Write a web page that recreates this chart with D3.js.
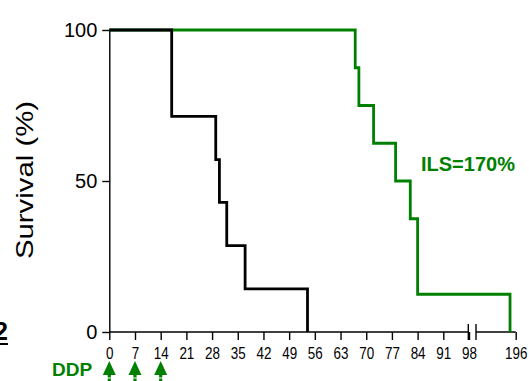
<!DOCTYPE html>
<html>
<head>
<meta charset="utf-8">
<script src="https://cdn.jsdelivr.net/npm/d3@7"></script>
<style>
  body { margin: 0; background: #fff; }
  svg { display: block; font-family: "Liberation Sans", Arial, sans-serif; }
</style>
</head>
<body>
<div id="chart"></div>
<script>
// control group (black) - 7 mice
const controlDays = [0, 17, 29, 30, 32, 37, 54];
const controlSurv = [100, 71.4, 57.1, 42.9, 28.6, 14.3, 0];
// DDP group (green) - 8 mice
const ddpDays = [0, 67, 68, 72, 78, 82, 84, 194];
const ddpSurv = [100, 87.5, 75, 62.5, 50, 37.5, 12.5, 0];

const xTicks = [0, 7, 14, 21, 28, 35, 42, 49, 56, 63, 70, 77, 84, 91, 98, 196];
const yTicks = [0, 50, 100];
const doseDays = [0, 7, 14];

const green = "#008000";
const width = 529, height = 381;

const svg = d3.select("#chart").append("svg")
  .attr("width", width)
  .attr("height", height);

// broken x axis: 0-98 then a short piece ending at 196
const x = d3.scaleLinear()
  .domain([0, 98, 182, 196])
  .range([109.3, 469, 476, 515.7]);
const y = d3.scaleLinear().domain([0, 100]).range([332, 30]);

// y axis
const yAxis = svg.append("g")
  .attr("transform", `translate(${x(0)},0)`)
  .call(d3.axisLeft(y).tickValues(yTicks).tickSize(7).tickSizeOuter(0).tickPadding(5));
yAxis.selectAll("text").attr("font-size", 20).attr("fill", "#000").attr("font-family", null);
yAxis.selectAll("line, path").attr("stroke", "#000").attr("stroke-width", 1.4);

// x axis
const xAxis = svg.append("g")
  .attr("transform", `translate(0,${y(0)})`)
  .call(d3.axisBottom(x).tickValues(xTicks).tickSize(8).tickPadding(8));
xAxis.select(".domain").remove();
xAxis.selectAll("text")
  .attr("font-size", 16).attr("fill", "#000").attr("font-family", null)
  .attr("transform", "scale(0.84,1)");
xAxis.selectAll("line").attr("stroke", "#000").attr("stroke-width", 1.4);

const axisLines = [[x(0), x(98)], [x(182), x(196)]];
xAxis.selectAll("line.seg")
  .data(axisLines).enter()
  .append("line")
  .attr("x1", d => d[0]).attr("x2", d => d[1])
  .attr("y1", 0).attr("y2", 0)
  .attr("stroke", "#000").attr("stroke-width", 1.4);

// break marks
xAxis.selectAll("line.brk")
  .data([x(98) - 0.7, x(182)]).enter()
  .append("line")
  .attr("x1", d => d).attr("x2", d => d)
  .attr("y1", -8).attr("y2", 8)
  .attr("stroke", "#000").attr("stroke-width", 1.4);

// survival curves
const line = d3.line()
  .x(d => x(d[0]))
  .y(d => y(d[1]))
  .curve(d3.curveStepAfter);

const drawCurve = (days, surv, color) => {
  const pts = days.map((d, i) => [d, surv[i]]);
  svg.append("path")
    .attr("d", line(pts))
    .attr("fill", "none")
    .attr("stroke", color)
    .attr("stroke-width", 2.8)
    .attr("stroke-linejoin", "miter");
};
drawCurve(ddpDays, ddpSurv, green);
drawCurve(controlDays, controlSurv, "#000");

// y title
svg.append("text")
  .attr("transform", "translate(33,180) rotate(-90)")
  .attr("text-anchor", "middle")
  .attr("font-size", 24)
  .attr("textLength", 158)
  .attr("lengthAdjust", "spacingAndGlyphs")
  .text("Survival (%)");

// ILS annotation
svg.append("text")
  .attr("x", 421).attr("y", 171)
  .attr("font-size", 20).attr("font-weight", "bold")
  .attr("fill", green)
  .text("ILS=170%");

// DDP dosing arrows
svg.append("text")
  .attr("x", 52).attr("y", 376)
  .attr("font-size", 19).attr("font-weight", "bold")
  .attr("fill", green)
  .text("DDP");

const arrows = svg.selectAll("g.arrow")
  .data(doseDays).enter()
  .append("g")
  .attr("transform", d => `translate(${x(d)},0)`);
arrows.append("path")
  .attr("d", "M0,361L-6.5,375L6.5,375Z")
  .attr("fill", green);
arrows.append("rect")
  .attr("x", -1.6).attr("y", 374).attr("width", 3.2).attr("height", 3.5)
  .attr("fill", green);
arrows.append("rect")
  .attr("x", -1.6).attr("y", 378.5).attr("width", 3.2).attr("height", 2.5)
  .attr("fill", green);

// panel label, cut at left edge
svg.append("text")
  .attr("x", 8).attr("y", 340)
  .attr("text-anchor", "end")
  .attr("font-size", 25).attr("font-weight", "bold")
  .text("2");
svg.append("line")
  .attr("x1", 0).attr("x2", 8)
  .attr("y1", 344).attr("y2", 344)
  .attr("stroke", "#000").attr("stroke-width", 2);
</script>
</body>
</html>
